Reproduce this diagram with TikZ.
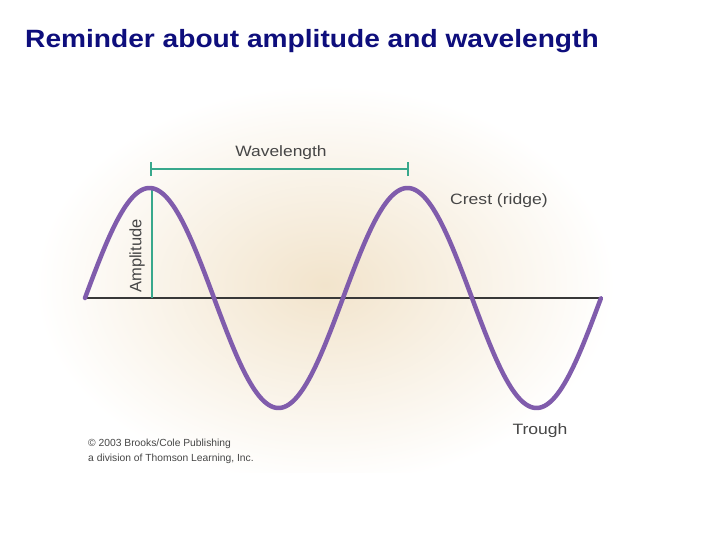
\documentclass[tikz,border=0pt]{standalone}
\usepackage{fontspec}
\setmainfont{Liberation Sans}
\definecolor{titleblue}{RGB}{14,14,124}
\definecolor{wavepurple}{RGB}{128,92,172}
\definecolor{teal2}{RGB}{56,168,140}
\definecolor{labelgray}{RGB}{70,70,70}
\definecolor{glow}{RGB}{242,228,204}
\newcommand{\wide}[2]{\scalebox{#1}[1]{#2}}
\begin{document}
\begin{tikzpicture}[x=1pt,y=-1pt,
  lbl/.style={inner sep=0pt,text=labelgray,font=\fontsize{15}{17}\selectfont},
  small/.style={inner sep=0pt,text=labelgray,font=\fontsize{10.3}{15}\selectfont,align=left,anchor=north west},
  measure/.style={teal2,line width=1.8pt}]
\useasboundingbox (0,0) rectangle (728,546);
\fill[white] (0,0) rectangle (728,546);
\begin{scope}
\clip (0,0) rectangle (728,472);
\shade[inner color=glow,outer color=white] (325,285) ellipse [x radius=290,y radius=200];
\end{scope}
\node[anchor=base west,inner sep=0pt,text=titleblue,font=\fontsize{25}{28}\bfseries\selectfont] (title) at (25,47) {\wide{1.125}{Reminder about amplitude and wavelength}};
% baseline
\coordinate (b0) at (85,298);
\coordinate (b1) at (603,298);
\draw[labelgray!80!black,line width=1.3pt] (b0) -- (b1);
% wavelength bar
\coordinate (w0) at (151,169);
\coordinate (w1) at (408,169);
\draw[measure] (w0) -- (w1);
\draw[measure] ([yshift=-7pt]w0) -- ([yshift=7pt]w0);
\draw[measure] ([yshift=-7pt]w1) -- ([yshift=7pt]w1);
\node[lbl,anchor=base] (wl) at (281,156) {\wide{1.16}{Wavelength}};
% amplitude
\coordinate (a0) at (152,188);
\coordinate (a1) at (152,298);
\draw[measure] (a0) -- (a1);
\node[lbl,rotate=90,font=\fontsize{16.5}{18}\selectfont] (amp) at (137,256) {Amplitude};
% wave
\draw[wavepurple,line width=4.5pt,line cap=round,line join=round]
  plot[domain=0:2,samples=241,smooth] ({85+258*\x},{298-110*sin(360*\x)});
\node[lbl,anchor=base west] (crest) at (450,204) {\wide{1.17}{Crest (ridge)}};
\node[lbl,anchor=base] (trough) at (540,434) {\wide{1.17}{Trough}};
\node[small] (copy) at (88,439) {\textcopyright{} 2003 Brooks/Cole Publishing\\a division of Thomson Learning, Inc.};
\end{tikzpicture}
\end{document}
